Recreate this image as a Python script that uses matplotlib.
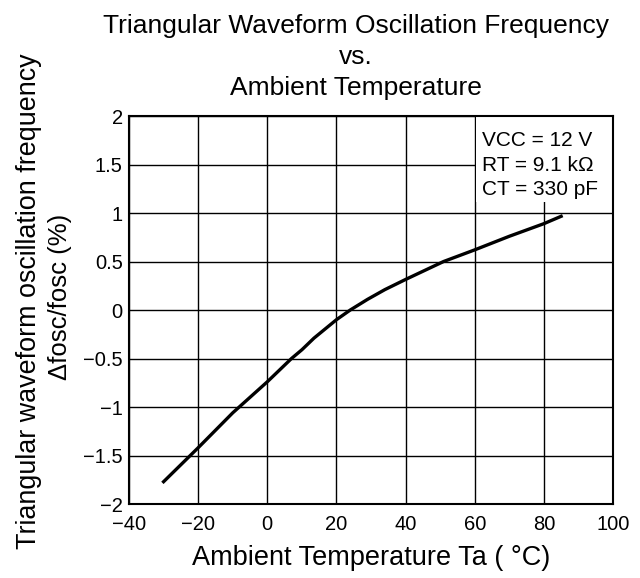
import matplotlib.pyplot as plt
from matplotlib.patches import Rectangle

plt.rcParams['font.family'] = ['Liberation Sans', 'DejaVu Sans']

# curve
temp = [-30, -20, -10, 0, 7, 10, 13.5, 20, 24, 29, 34, 40, 51, 60, 70, 80, 85]
dfreq = [-1.77, -1.42, -1.06, -0.74, -0.50, -0.41, -0.29, -0.10, 0.0, 0.11, 0.21,
         0.315, 0.50, 0.62, 0.76, 0.89, 0.966]

xticks = [-40, -20, 0, 20, 40, 60, 80, 100]
yticks = [-2, -1.5, -1, -0.5, 0, 0.5, 1, 1.5, 2]
ytick_labels = ['\u22122', '\u22121.5', '\u22121', '\u22120.5', '0', '0.5', '1', '1.5', '2']
xtick_labels = ['\u221240', '\u221220', '0', '20', '40', '60', '80', '100']
conditions = ['VCC = 12 V', 'RT = 9.1 k\u03a9', 'CT = 330 pF']

fig = plt.figure(figsize=(6.4, 5.78), dpi=100)
ax = fig.add_axes([0.2016, 0.128, 0.7562, 0.6713])

ax.plot(temp, dfreq, color='black', lw=2.4, zorder=3)
ax.set_xlim(-40, 100)
ax.set_ylim(-2, 2)
ax.set_xticks(xticks)
ax.set_xticklabels(xtick_labels)
ax.set_yticks(yticks)
ax.set_yticklabels(ytick_labels)
ax.grid(True, color='black', lw=1)
ax.set_axisbelow(True)
ax.tick_params(length=0, labelsize=14.5)
ax.tick_params(axis='x', pad=8)
ax.tick_params(axis='y', pad=4.5)
for s in ax.spines.values():
    s.set_linewidth(1.5)
    s.set_zorder(5)

# conditions: white patch over the grid in the upper right cell block
ax.add_patch(Rectangle((60.4, 1.11), 39.6, 0.89, facecolor='white', edgecolor='none',
                       zorder=1))
for i, line in enumerate(conditions):
    ax.text(62.1, 1.69 - i * 0.252, line, ha='left', va='baseline', fontsize=15, zorder=4)

ax.set_title('Triangular Waveform Oscillation Frequency\nvs.\nAmbient Temperature',
             fontsize=19, linespacing=1.36, pad=15, x=0.469)
ax.set_xlabel('Ambient Temperature Ta ( \u00b0C)', fontsize=19.5, labelpad=8)

fig.text(0.045, 0.479, 'Triangular waveform oscillation frequency', rotation=90,
         ha='center', va='center', fontsize=19.4)
fig.text(0.094, 0.486, '\u0394fosc/fosc (%)', rotation=90,
         ha='center', va='center', fontsize=18.5)

fig.savefig('out.png', dpi=100)
